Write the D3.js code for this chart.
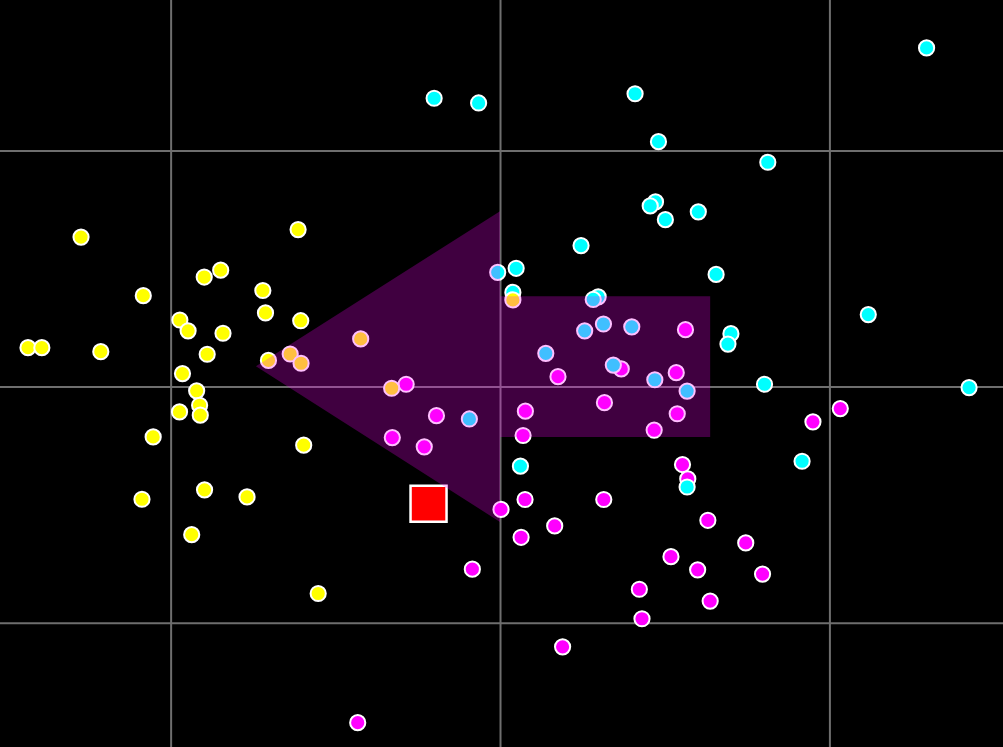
<!DOCTYPE html>
<html>
<head>
<meta charset="utf-8">
<script src="https://cdn.jsdelivr.net/npm/d3@7"></script>
<style>
  html, body { margin: 0; padding: 0; background: #000; overflow: hidden; }
</style>
</head>
<body>
<div id="chart"></div>
<script>
// grid ticks (data units)
const gridX = [-1, 0, 1];
const gridY = [-1, 0, 1];

// three groups, drawn in this order
const magentaX = [-0.285, -0.193, -0.327, -0.230, 0.077, 0.070, 0.076, 0.003, 0.563, 0.368, 0.176, 0.535, 0.317, 0.538, 0.468, 1.033, 0.950,
    0.554, 0.570, 0.631, 0.746, 0.519, 0.600, 0.797, 0.638, 0.423, 0.431, 0.315, 0.166, 0.064, -0.084, 0.190, -0.432];
const magentaY = [0.010, -0.123, -0.216, -0.255, -0.104, -0.207, -0.478, -0.520, 0.241, 0.075, 0.042, 0.059, -0.068, -0.115, -0.184, -0.093, -0.149,
    -0.330, -0.391, -0.566, -0.662, -0.720, -0.776, -0.794, -0.908, -0.858, -0.983, -0.478, -0.590, -0.638, -0.773, -1.102, -1.423];

const cyanX = [-0.200, -0.065, 0.410, 0.481, 0.472, 0.456, 0.502, 0.602, 0.246, 1.295, 0.813, 0.656, 1.118, 0.701, 0.692, -0.007, 0.049,
    0.039, 0.298, 0.283, 0.257, 0.314, 0.400, 0.139, 0.344, 0.470, 0.568, -0.093, 0.803, 1.424, 0.917, 0.568, 0.062];
const cyanY = [1.221, 1.201, 1.240, 1.037, 0.782, 0.765, 0.707, 0.740, 0.597, 1.434, 0.950, 0.475, 0.305, 0.224, 0.180, 0.484, 0.501,
    0.399, 0.380, 0.369, 0.236, 0.265, 0.253, 0.141, 0.091, 0.029, -0.019, -0.137, 0.010, -0.004, -0.316, -0.425, -0.337];

const yellowX = [-1.272, -0.613, -0.898, -0.848, -0.720, -1.083, -0.712, -0.972, -0.947, -0.605, -0.841, -1.433, -1.391, -1.212, -0.889, -0.703, -0.637,
    -0.604, -0.964, -0.921, -0.912, -0.910, -0.973, -1.053, -0.596, -1.087, -0.897, -0.768, -0.936, -0.552, -0.423, -0.329, 0.039];
const yellowY = [0.633, 0.665, 0.464, 0.493, 0.407, 0.385, 0.312, 0.282, 0.236, 0.279, 0.226, 0.165, 0.165, 0.148, 0.137, 0.111, 0.138,
    0.099, 0.055, -0.018, -0.079, -0.121, -0.107, -0.213, -0.248, -0.477, -0.437, -0.467, -0.627, -0.876, 0.202, -0.007, 0.367];

// red square marker
const markerX = [-0.217];
const markerY = [-0.496];

// arrow: tail -> tip, widths in data units
const arrowTail = [0.638, 0.084];
const arrowTip = [-0.741, 0.086];
const arrowShaftHalf = 0.298;
const arrowHeadHalf = 0.658;
const arrowHeadLen = 0.741;

const CONSTANTS = {
    WIDTH: 1003,
    HEIGHT: 747,
    R: 7.6,
    SQUARE: 36,
};

const svg = d3.select("#chart")
    .append("svg")
    .attr("width", CONSTANTS.WIDTH)
    .attr("height", CONSTANTS.HEIGHT)
    .style("display", "block")
    .style("background", "#000");

const x = d3.scaleLinear().domain([-1.518, 1.527]).range([0, CONSTANTS.WIDTH]);
const y = d3.scaleLinear().domain([1.637, -1.526]).range([0, CONSTANTS.HEIGHT]);

// grid lines
svg.append("g")
    .call(d3.axisBottom(x).tickValues(gridX).tickSize(CONSTANTS.HEIGHT).tickFormat(""))
    .call(g => g.select(".domain").remove())
    .call(g => g.selectAll("line").attr("stroke", "#6e6e6e").attr("stroke-width", 2));

svg.append("g")
    .call(d3.axisRight(y).tickValues(gridY).tickSize(CONSTANTS.WIDTH).tickFormat(""))
    .call(g => g.select(".domain").remove())
    .call(g => g.selectAll("line").attr("stroke", "#6e6e6e").attr("stroke-width", 2));

const groups = [
    { xs: magentaX, ys: magentaY, color: "#ff00ff" },
    { xs: cyanX, ys: cyanY, color: "#00ffff" },
    { xs: yellowX, ys: yellowY, color: "#ffff00" },
];

groups.forEach((grp) => {
    const pts = grp.xs.map((v, i) => ({ x: v, y: grp.ys[i] }));
    svg.append("g")
        .selectAll("circle")
        .data(pts)
        .join("circle")
        .attr("cx", d => x(d.x))
        .attr("cy", d => y(d.y))
        .attr("r", CONSTANTS.R)
        .attr("fill", grp.color)
        .attr("stroke", "#fff")
        .attr("stroke-width", 2);
});

// red square
const s = CONSTANTS.SQUARE;
svg.append("g")
    .selectAll("rect")
    .data(markerX.map((v, i) => ({ x: v, y: markerY[i] })))
    .join("rect")
    .attr("x", d => x(d.x) - s / 2)
    .attr("y", d => y(d.y) - s / 2)
    .attr("width", s)
    .attr("height", s)
    .attr("fill", "#ff0000")
    .attr("stroke", "#fff")
    .attr("stroke-width", 2.5);

// arrow polygon (horizontal arrow, pointing from tail to tip)
const dir = Math.sign(arrowTip[0] - arrowTail[0]);
const neck = arrowTip[0] - dir * arrowHeadLen;
const cy = (arrowTail[1] + arrowTip[1]) / 2;
const arrowPts = [
    [arrowTail[0], cy + arrowShaftHalf],
    [neck, cy + arrowShaftHalf],
    [neck, cy + arrowHeadHalf],
    [arrowTip[0], arrowTip[1]],
    [neck, cy - arrowHeadHalf],
    [neck, cy - arrowShaftHalf],
    [arrowTail[0], cy - arrowShaftHalf],
];

svg.append("path")
    .datum(arrowPts)
    .attr("d", d3.line().x(d => x(d[0])).y(d => y(d[1])).curve(d3.curveLinearClosed))
    .attr("fill", "#ff00ff")
    .attr("fill-opacity", 0.25)
    .attr("stroke", "none");
</script>
</body>
</html>
